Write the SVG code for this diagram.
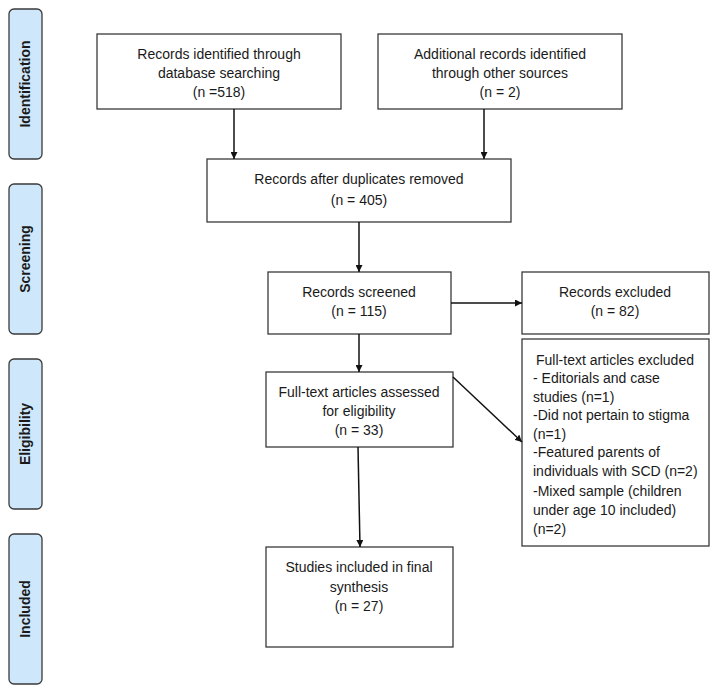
<svg xmlns="http://www.w3.org/2000/svg" width="719" height="694" viewBox="0 0 719 694">
<style>
.phase rect{fill:#cfe7fa;stroke:#3a3a3a;stroke-width:1.3}
.phase text{font-family:"Liberation Sans",Arial,sans-serif;font-size:14px;font-weight:bold;fill:#1a1a1a;text-anchor:middle}
.node rect{fill:#fff;stroke:#3a3a3a;stroke-width:1.3}
.node text{font-family:"Liberation Sans",Arial,sans-serif;font-size:14px;fill:#1a1a1a;text-anchor:middle}
.node text.l{text-anchor:start}
#connectors line{stroke:#111;stroke-width:1.5;marker-end:url(#ah)}
</style>
<defs>
<marker id="ah" viewBox="0 0 10 10" refX="10" refY="5" markerWidth="7" markerHeight="7" orient="auto" markerUnits="userSpaceOnUse">
<path d="M0,0 L10,5 L0,10 z" fill="#111"/>
</marker>
</defs>
<rect width="719" height="694" fill="#fff"/>
<g id="phase-identification" class="phase"><rect x="9" y="9" width="33" height="150" rx="5"/><text transform="translate(30,84) rotate(-90)">Identification</text></g>
<g id="phase-screening" class="phase"><rect x="9" y="184" width="33" height="150" rx="5"/><text transform="translate(30,259) rotate(-90)">Screening</text></g>
<g id="phase-eligibility" class="phase"><rect x="9" y="359" width="33" height="150" rx="5"/><text transform="translate(30,434) rotate(-90)">Eligibility</text></g>
<g id="phase-included" class="phase"><rect x="9" y="534" width="33" height="150" rx="5"/><text transform="translate(30,609) rotate(-90)">Included</text></g>

<g id="n-database" class="node"><rect x="97" y="34" width="244" height="75"/>
<text x="219" y="59">Records identified through</text><text x="219" y="78">database searching</text><text x="219" y="97">(n =518)</text></g>
<g id="n-other" class="node"><rect x="378" y="34" width="244" height="75"/>
<text x="500" y="59">Additional records identified</text><text x="500" y="78">through other sources</text><text x="500" y="97">(n = 2)</text></g>
<g id="n-dedup" class="node"><rect x="207" y="159" width="304" height="63"/>
<text x="359" y="184">Records after duplicates removed</text><text x="359" y="205">(n = 405)</text></g>
<g id="n-screened" class="node"><rect x="268" y="272" width="183" height="62"/>
<text x="359" y="297">Records screened</text><text x="359" y="316">(n = 115)</text></g>
<g id="n-excluded" class="node"><rect x="522" y="272" width="187" height="62"/>
<text x="615" y="297">Records excluded</text><text x="615" y="316">(n = 82)</text></g>
<g id="n-eligibility" class="node"><rect x="266" y="372" width="187" height="75"/>
<text x="359" y="397">Full-text articles assessed</text><text x="359" y="416">for eligibility</text><text x="359" y="435">(n = 33)</text></g>
<g id="n-ftexcluded" class="node"><rect x="522" y="339" width="187" height="207"/>
<text x="615" y="365">Full-text articles excluded</text>
<text class="l" x="533" y="383">- Editorials and case</text>
<text class="l" x="533" y="402">studies (n=1)</text>
<text class="l" x="533" y="420">-Did not pertain to stigma</text>
<text class="l" x="533" y="439">(n=1)</text>
<text class="l" x="533" y="457">-Featured parents of</text>
<text class="l" x="533" y="476">individuals with SCD (n=2)</text>
<text class="l" x="533" y="496">-Mixed sample (children</text>
<text class="l" x="533" y="515">under age 10 included)</text>
<text class="l" x="533" y="534">(n=2)</text></g>
<g id="n-included" class="node"><rect x="266" y="547" width="187" height="100"/>
<text x="359" y="572">Studies included in final</text><text x="359" y="592">synthesis</text><text x="359" y="611">(n = 27)</text></g>

<g id="connectors">
<line x1="234" y1="109" x2="234" y2="159"/>
<line x1="484" y1="109" x2="484" y2="159"/>
<line x1="359" y1="222" x2="359" y2="272"/>
<line x1="451" y1="303" x2="522" y2="303"/>
<line x1="359" y1="334" x2="359" y2="372"/>
<line x1="453" y1="377" x2="522" y2="442"/>
<line x1="358" y1="447" x2="360" y2="547"/>
</g>
</svg>
